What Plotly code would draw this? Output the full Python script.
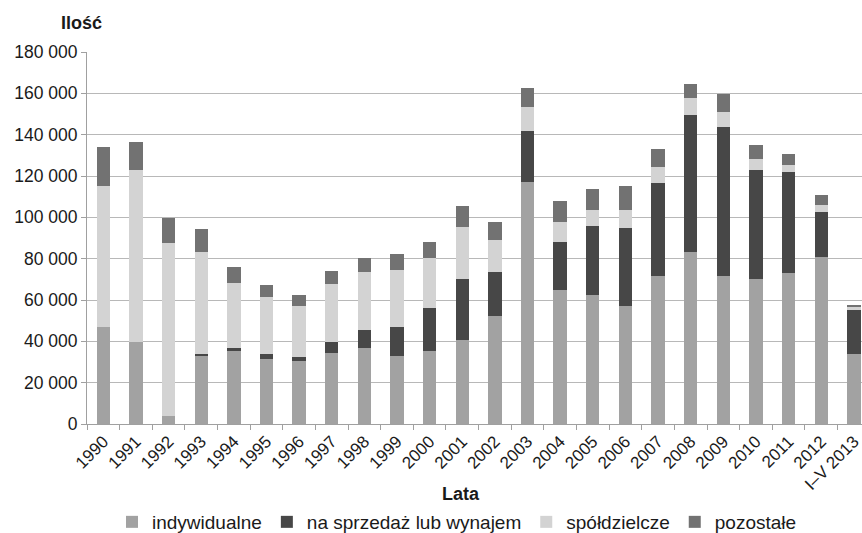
import plotly.graph_objects as go

lata = ["1990", "1991", "1992", "1993", "1994", "1995", "1996", "1997", "1998",
        "1999", "2000", "2001", "2002", "2003", "2004", "2005", "2006", "2007",
        "2008", "2009", "2010", "2011", "2012", "I–V 2013"]

indywidualne = [47000, 39500, 4000, 33000, 35200, 31500, 30300, 34500, 36800,
                33100, 35200, 40500, 52300, 117100, 65000, 62400, 57100, 71500,
                83200, 71500, 70000, 73100, 81000, 33900]
na_sprzedaz = [0, 0, 0, 900, 1600, 2400, 2100, 5000, 8700,
               13900, 20800, 29500, 21400, 24500, 23200, 33200, 37900, 45000,
               66500, 72400, 53100, 48700, 21400, 21400]
spoldzielcze = [68000, 83500, 83700, 49300, 31600, 27400, 24800, 28400, 28200,
                27400, 24200, 25200, 15500, 11800, 9500, 8100, 8700, 8000,
                8100, 7100, 5200, 3400, 3600, 1100]
pozostale = [19000, 13500, 11800, 11100, 7700, 5800, 5000, 6100, 6800,
             7700, 7700, 10500, 8400, 9000, 10000, 10000, 11600, 8400,
             6800, 8500, 6800, 5500, 4800, 1100]

serie = [
    ("indywidualne", indywidualne, "#a2a2a2"),
    ("na sprzedaż lub wynajem", na_sprzedaz, "#474747"),
    ("spółdzielcze", spoldzielcze, "#d3d3d3"),
    ("pozostałe", pozostale, "#727272"),
]

fig = go.Figure()
for nazwa, wartosci, kolor in serie:
    fig.add_trace(go.Bar(x=lata, y=wartosci, name=nazwa,
                         marker=dict(color=kolor, line=dict(width=0))))

font = "Liberation Sans, Arial, sans-serif"
W, H = 862, 533
L, R, T, B = 87, 0, 52, 109          # plot area: x 87..862, y 52..424

fig.update_layout(
    barmode="stack",
    bargap=0.59,
    width=W, height=H,
    margin=dict(l=L, r=R, t=T, b=B, autoexpand=False),
    paper_bgcolor="white",
    plot_bgcolor="white",
    separators=", ",
    font=dict(family=font, color="#1a1a1a"),
    showlegend=True,
    legend=dict(orientation="h", traceorder="normal",
                x=457 / W, xanchor="center", xref="container",
                y=1 - 522 / H, yanchor="middle", yref="container",
                font=dict(size=19, color="#1a1a1a")),
)

# axis titles, offset in pixels from the plot area corners
fig.add_annotation(text="<b>Ilość</b>", x=0, y=1, xref="paper", yref="paper",
                   xshift=81 - L, yshift=T - 23, showarrow=False,
                   xanchor="center", yanchor="middle", font=dict(size=18))
fig.add_annotation(text="<b>Lata</b>", x=0, y=0, xref="paper", yref="paper",
                   xshift=461 - L, yshift=-(494 - (H - B)), showarrow=False,
                   xanchor="center", yanchor="middle", font=dict(size=18))

fig.update_xaxes(
    type="category",
    range=[-0.5, 23.25],             # last category runs past the right edge
    tickangle=-45,
    automargin=False,
    tickfont=dict(size=17, color="#1a1a1a"),
    showline=True, linecolor="#a0a0a0", linewidth=1,
    ticks="outside", tickson="boundaries", ticklen=5, tickcolor="#a0a0a0",
    showgrid=False,
)
fig.update_yaxes(
    range=[0, 180000],
    dtick=20000,
    tickformat=",d",
    automargin=False,
    tickfont=dict(size=17.5, color="#1a1a1a"),
    showline=True, linecolor="#a0a0a0", linewidth=1,
    ticks="outside", ticklen=5, tickcolor="#a0a0a0",
    showgrid=True, gridcolor="#b8b8b8", gridwidth=1,
    zeroline=False,
)

fig.write_html("out.html")
